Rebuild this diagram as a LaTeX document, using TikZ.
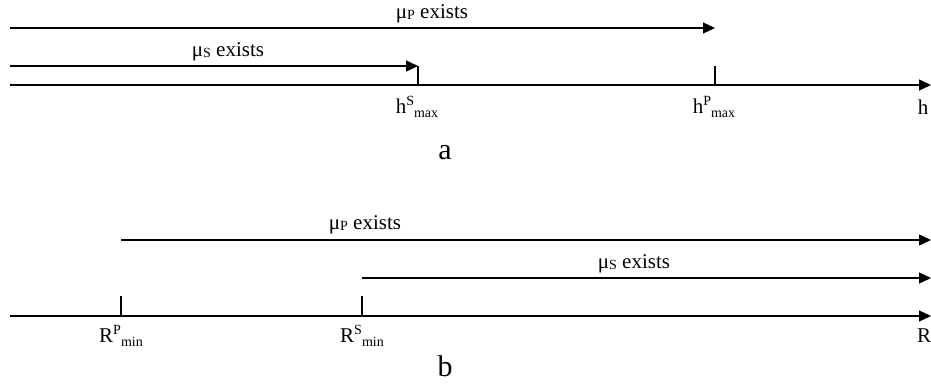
\documentclass[tikz,border=0pt]{standalone}
\usepackage{fontspec}
\setmainfont{Liberation Serif}
\usetikzlibrary{arrows.meta}
\tikzset{
  axis/.style={line width=1.3pt,-{Triangle[length=12pt,width=11pt]}},
  tick/.style={line width=1.3pt},
  lbl/.style={inner sep=0pt,font=\fontsize{21}{24}\selectfont},
  big/.style={inner sep=0pt,font=\fontsize{30}{32}\selectfont}
}
\newcommand{\musub}[1]{μ\raisebox{-1pt}{\fontsize{14}{15}\selectfont #1}}
\newcommand{\supsub}[3]{#1\raisebox{8pt}{\fontsize{14}{15}\selectfont #2}\raisebox{-4pt}{\fontsize{14}{15}\selectfont #3}}
\begin{document}
\begin{tikzpicture}[x=1pt,y=-1pt]
\useasboundingbox (0,0) rectangle (931,386);
% part a
\coordinate (a0) at (10,85);
\coordinate (aend) at (931,85);
\coordinate (sP0) at (10,28);
\coordinate (sS0) at (10,66);
\coordinate (tS1) at (418,66);
\coordinate (tS2) at (418,85);
\coordinate (tP1) at (715,66);
\coordinate (tP2) at (715,85);
\coordinate (eP) at (715,28);
\draw[axis] (a0) -- (aend);
\draw[axis] (sP0) -- (eP);
\draw[axis] (sS0) -- (tS1);
\draw[tick] (tS1) -- (tS2);
\draw[tick] (tP1) -- (tP2);
\node[lbl] (lPa) at (432,14) {\musub{P} exists};
\node[lbl] (lSa) at (228,52) {\musub{S} exists};
\node[lbl] (hS) at (417,107) {\supsub{h}{S}{max}};
\node[lbl] (hP) at (714,107) {\supsub{h}{P}{max}};
\node[lbl] (h) at (923,107) {h};
\node[big] (a) at (445,153) {a};
% part b
\coordinate (b0) at (10,316);
\coordinate (bend) at (931,316);
\coordinate (rP1) at (121,296);
\coordinate (rP2) at (121,316);
\coordinate (rS1) at (362,296);
\coordinate (rS2) at (362,316);
\coordinate (bP0) at (121,240);
\coordinate (bPe) at (931,240);
\coordinate (bS0) at (362,278);
\coordinate (bSe) at (931,278);
\draw[axis] (b0) -- (bend);
\draw[axis] (bP0) -- (bPe);
\draw[axis] (bS0) -- (bSe);
\draw[tick] (rP1) -- (rP2);
\draw[tick] (rS1) -- (rS2);
\node[lbl] (lPb) at (365,225) {\musub{P} exists};
\node[lbl] (lSb) at (634,264) {\musub{S} exists};
\node[lbl] (RP) at (121,336) {\supsub{R}{P}{min}};
\node[lbl] (RS) at (362,336) {\supsub{R}{S}{min}};
\node[lbl] (R) at (924,336) {R};
\node[big] (b) at (445,366) {b};
\end{tikzpicture}
\end{document}
